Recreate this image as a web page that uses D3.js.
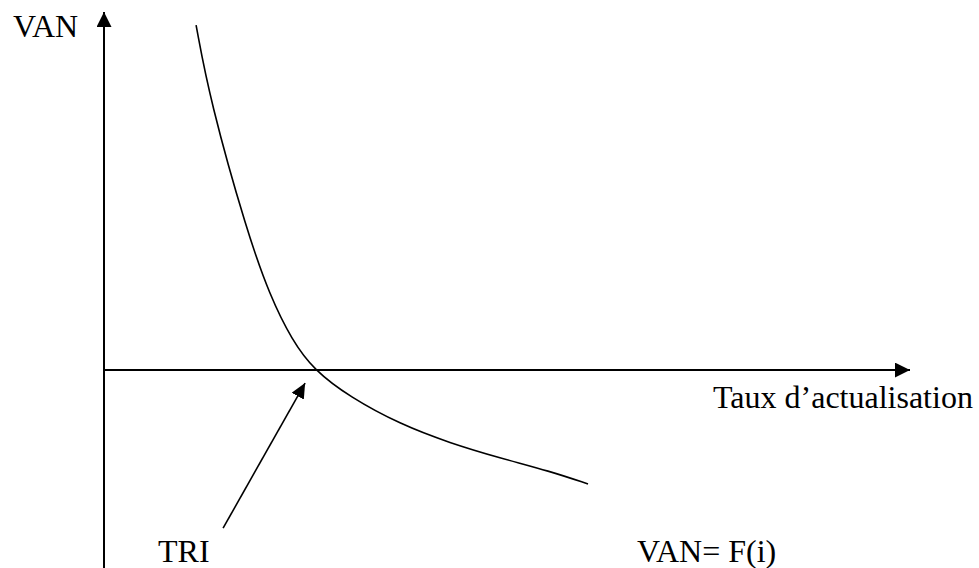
<!DOCTYPE html>
<html>
<head>
<meta charset="utf-8">
<script src="https://cdn.jsdelivr.net/npm/d3@7"></script>
<style>
  body { margin: 0; background: #fff; }
  text { font-family: "Liberation Serif", "Times New Roman", serif; font-size: 32px; fill: #000; }
</style>
</head>
<body>
<svg id="chart" width="979" height="568"></svg>
<script>
// VAN as a function of the discount rate
const rates = [4.57, 5.26, 7.10, 8.24, 9.33, 10.42, 12.21, 14.69, 17.17, 19.65, 22.13, 24.02];
const vans  = [96.9, 75.8, 38.8, 20.8, 8.4, 0, -7.6, -15.2, -20.5, -24.7, -28.4, -32.0];

// TRI pointer: from label towards the zero crossing
const pointerRate = [5.91, 9.98];
const pointerVan  = [-44.4, -3.65];

const labels = ["VAN", "Taux d\u2019actualisation", "TRI", "VAN= F(i)"];

const width = 979, height = 568;
const svg = d3.select("#chart");

const x = d3.scaleLinear().domain([0, 40]).range([104, 910]);
const y = d3.scaleLinear().domain([-55.6, 100.6]).range([568, 12]);

// arrow heads
const defs = svg.append("defs");
function addMarker(id, len, half) {
    defs.append("marker")
        .attr("id", id)
        .attr("markerUnits", "userSpaceOnUse")
        .attr("viewBox", `0 ${-half} ${len} ${half * 2}`)
        .attr("refX", len)
        .attr("refY", 0)
        .attr("markerWidth", len)
        .attr("markerHeight", half * 2)
        .attr("orient", "auto")
        .append("path")
        .attr("d", `M0,${-half}L${len},0L0,${half}Z`)
        .attr("fill", "#000");
}
addMarker("axisHead", 15, 7.5);
addMarker("ptrHead", 15, 7);

// axes
svg.append("line")
    .attr("x1", x(0)).attr("y1", y(-55.6))
    .attr("x2", x(0)).attr("y2", y(100.6))
    .attr("stroke", "#000").attr("stroke-width", 2)
    .attr("marker-end", "url(#axisHead)");

svg.append("line")
    .attr("x1", x(0)).attr("y1", y(0))
    .attr("x2", x(40)).attr("y2", y(0))
    .attr("stroke", "#000").attr("stroke-width", 2)
    .attr("marker-end", "url(#axisHead)");

// curve
const pts = rates.map((r, i) => [r, vans[i]]);
svg.append("path")
    .datum(pts)
    .attr("d", d3.line().x(d => x(d[0])).y(d => y(d[1])).curve(d3.curveBasis))
    .attr("fill", "none")
    .attr("stroke", "#000")
    .attr("stroke-width", 1.6);

// TRI pointer
svg.append("line")
    .attr("x1", x(pointerRate[0])).attr("y1", y(pointerVan[0]))
    .attr("x2", x(pointerRate[1])).attr("y2", y(pointerVan[1]))
    .attr("stroke", "#000").attr("stroke-width", 1.6)
    .attr("marker-end", "url(#ptrHead)");

// labels
svg.append("text").attr("x", 13).attr("y", 37).text(labels[0]);
svg.append("text").attr("x", 713).attr("y", 408).text(labels[1]);
svg.append("text").attr("x", 158).attr("y", 562).text(labels[2]);
svg.append("text").attr("x", 637).attr("y", 562).text(labels[3]);
</script>
</body>
</html>
